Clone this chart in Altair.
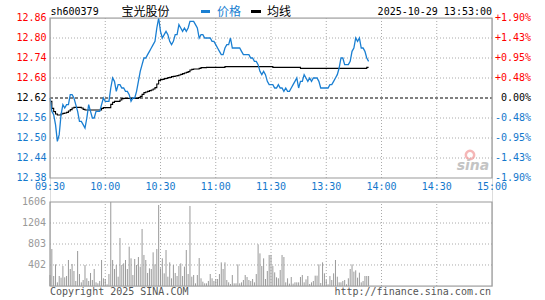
import altair as alt
import pandas as pd

# ---------------- data ----------------
minutes = list(range(174))  # minutes since 09:30 (13:00 continues at 120)

price = [
    12.62, 12.58, 12.57, 12.54, 12.49, 12.51, 12.57, 12.60, 12.59, 12.60,
    12.60, 12.63, 12.63, 12.62, 12.60, 12.58, 12.55, 12.55, 12.54, 12.53,
    12.56, 12.60, 12.58, 12.56, 12.56, 12.58, 12.58, 12.58, 12.60, 12.62,
    12.61, 12.61, 12.61, 12.65, 12.68, 12.67, 12.64, 12.66, 12.66, 12.65,
    12.65, 12.64, 12.64, 12.63, 12.61, 12.62, 12.62, 12.64, 12.67, 12.70,
    12.72, 12.74, 12.74, 12.75, 12.76, 12.77, 12.78, 12.79, 12.83, 12.86,
    12.82, 12.80, 12.81, 12.82, 12.81, 12.79, 12.78, 12.79, 12.81, 12.81,
    12.84, 12.83, 12.82, 12.83, 12.82, 12.83, 12.85, 12.85, 12.85, 12.84,
    12.83, 12.80, 12.81, 12.81, 12.80, 12.80, 12.80, 12.80, 12.79, 12.79,
    12.78, 12.77, 12.76, 12.75, 12.75, 12.77, 12.78, 12.78, 12.80, 12.77,
    12.77, 12.77, 12.77, 12.77, 12.76, 12.75, 12.75, 12.75, 12.75, 12.74,
    12.74, 12.73, 12.73, 12.72, 12.70, 12.69, 12.70, 12.69, 12.67, 12.66,
    12.66, 12.66, 12.65, 12.65, 12.66, 12.65, 12.65, 12.64, 12.65, 12.64,
    12.64, 12.65, 12.66, 12.67, 12.68, 12.65, 12.67, 12.67, 12.69, 12.68,
    12.67, 12.68, 12.67, 12.68, 12.68, 12.68, 12.67, 12.65, 12.65, 12.65,
    12.65, 12.65, 12.66, 12.66, 12.67, 12.68, 12.69, 12.71, 12.74, 12.74,
    12.72, 12.72, 12.72, 12.73, 12.76, 12.77, 12.80, 12.79, 12.80, 12.77,
    12.77, 12.76, 12.74, 12.73,
]

avg = [
    12.610, 12.589, 12.579, 12.572, 12.569, 12.569, 12.572, 12.574, 12.575, 12.577,
    12.581, 12.585, 12.590, 12.592, 12.592, 12.592, 12.592, 12.590, 12.586, 12.584,
    12.584, 12.584, 12.584, 12.584, 12.584, 12.584, 12.584, 12.584, 12.589, 12.591,
    12.591, 12.591, 12.591, 12.601, 12.607, 12.610, 12.610, 12.610, 12.614, 12.618,
    12.619, 12.619, 12.619, 12.619, 12.619, 12.619, 12.619, 12.619, 12.621, 12.625,
    12.631, 12.636, 12.638, 12.640, 12.642, 12.644, 12.647, 12.651, 12.662, 12.673,
    12.675, 12.676, 12.678, 12.679, 12.681, 12.682, 12.684, 12.685, 12.686, 12.687,
    12.689, 12.691, 12.693, 12.695, 12.697, 12.699, 12.704, 12.706, 12.707, 12.707,
    12.707, 12.709, 12.711, 12.711, 12.711, 12.712, 12.712, 12.712, 12.712, 12.712,
    12.712, 12.712, 12.712, 12.712, 12.712, 12.714, 12.714, 12.714, 12.714, 12.714,
    12.714, 12.714, 12.714, 12.714, 12.714, 12.714, 12.714, 12.714, 12.714, 12.714,
    12.714, 12.714, 12.714, 12.714, 12.714, 12.714, 12.714, 12.714, 12.714, 12.714,
    12.714, 12.712, 12.712, 12.712, 12.712, 12.712, 12.712, 12.712, 12.712, 12.712,
    12.712, 12.712, 12.712, 12.712, 12.712, 12.712, 12.709, 12.709, 12.709, 12.709,
    12.709, 12.709, 12.709, 12.709, 12.709, 12.709, 12.709, 12.709, 12.709, 12.709,
    12.709, 12.709, 12.709, 12.709, 12.709, 12.709, 12.709, 12.709, 12.709, 12.709,
    12.709, 12.709, 12.709, 12.709, 12.709, 12.709, 12.709, 12.709, 12.709, 12.709,
    12.709, 12.709, 12.712, 12.712,
]

volume = [
    210, 707, 191, 414, 70, 191, 159, 382, 166, 191,
    497, 325, 421, 287, 96, 669, 229, 70, 115, 401,
    147, 96, 249, 115, 325, 70, 51, 96, 497, 147,
    134, 32, 229, 1606, 497, 325, 401, 178, 918, 401,
    433, 497, 325, 752, 529, 210, 516, 401, 554, 370,
    1090, 593, 497, 249, 338, 325, 644, 414, 707, 1549,
    338, 529, 242, 688, 178, 452, 147, 401, 249, 191,
    382, 433, 191, 370, 688, 229, 1530, 178, 210, 51,
    210, 535, 147, 83, 51, 51, 96, 229, 147, 96,
    134, 134, 229, 452, 325, 452, 115, 70, 38, 210,
    51, 51, 414, 51, 70, 115, 210, 172, 115, 96,
    134, 70, 229, 797, 624, 382, 529, 134, 287, 593,
    593, 382, 261, 166, 147, 306, 593, 554, 70, 147,
    45, 172, 45, 70, 70, 70, 172, 210, 70, 127,
    191, 38, 70, 96, 198, 198, 414, 57, 452, 242,
    115, 32, 191, 115, 242, 497, 178, 70, 70, 96,
    115, 32, 147, 325, 414, 274, 300, 159, 255, 70,
    96, 191, 191, 191,
]

price_ticks = [12.86, 12.80, 12.74, 12.68, 12.62, 12.56, 12.50, 12.44, 12.38]
price_labels = ["12.86", "12.80", "12.74", "12.68", "12.62", "12.56", "12.50", "12.44", "12.38"]
pct_labels = ["+1.90%", "+1.43%", "+0.95%", "+0.48%", "0.00%", "-0.48%", "-0.95%", "-1.43%", "-1.90%"]
time_ticks = [0, 30, 60, 90, 120, 150, 180, 210, 240]
time_labels = ["09:30", "10:00", "10:30", "11:00", "11:30", "13:30", "14:00", "14:30", "15:00"]
vol_ticks = [1606, 1204, 803, 402]
vol_labels = ["1606", "1204", "803", "402"]
prev_close = 12.62

# ---------------- style ----------------
BLUE = "#1a7fd2"
BLUE_TXT = "#1478cc"
RED = "#ff0000"
GRID = "#aaaaaa"
FRAME = "#999999"
FONT = "DejaVu Sans Mono"

W, HP = 442, 268
X = alt.Scale(domain=[0, 240], range=[0, W], nice=False, zero=False)
PY = alt.Scale(domain=[12.38, 12.86], range=[160, 0], nice=False, zero=False)
VY = alt.Scale(domain=[0, 1606], range=[268, 184], nice=False, zero=False)

def tick_color(p):
    if p > prev_close:
        return RED
    if p < prev_close:
        return BLUE_TXT
    return "#000000"

series = pd.DataFrame({"t": minutes, "price": price, "avg": avg, "vol": volume,
                       "zero": [0] * len(minutes)})
ticks = pd.DataFrame({"p": price_ticks, "lab": price_labels, "pct": pct_labels,
                      "col": [tick_color(p) for p in price_ticks],
                      "t0": 0, "t1": 240})
grid_p = ticks[(ticks.p != prev_close) & (ticks.p != 12.86) & (ticks.p != 12.38)]
zero_line = ticks[ticks.p == prev_close]
tt = pd.DataFrame({"t": time_ticks, "lab": time_labels,
                   "p0": 12.38, "p1": 12.86, "v0": 0, "v1": 1606})
vgrid = tt[(tt.t > 0) & (tt.t < 240)]
vt = pd.DataFrame({"v": vol_ticks, "lab": vol_labels, "t0": 0, "t1": 240})
frame = pd.DataFrame({"t0": [0], "t1": [240], "p0": [12.38], "p1": [12.86], "v0": [0], "v1": [1606]})

xq = lambda f: alt.X(f, type="quantitative", scale=X, axis=None)
pq = lambda f: alt.Y(f, type="quantitative", scale=PY, axis=None)
vq = lambda f: alt.Y(f, type="quantitative", scale=VY, axis=None)

layers = []

# grids top
layers.append(alt.Chart(grid_p).mark_rule(color=GRID, strokeDash=[1, 2], strokeWidth=1)
              .encode(x=xq("t0"), x2="t1", y=pq("p")))
layers.append(alt.Chart(vgrid).mark_rule(color=GRID, strokeDash=[1, 2], strokeWidth=1)
              .encode(x=xq("t"), y=pq("p0"), y2="p1"))
# grids bottom
layers.append(alt.Chart(vt[vt.v < 1606]).mark_rule(color=GRID, strokeDash=[1, 2], strokeWidth=1)
              .encode(x=xq("t0"), x2="t1", y=vq("v")))
layers.append(alt.Chart(vgrid).mark_rule(color=GRID, strokeDash=[1, 2], strokeWidth=1)
              .encode(x=xq("t"), y=vq("v0"), y2="v1"))
# zero (prev close) line
layers.append(alt.Chart(zero_line).mark_rule(color="#000000", strokeDash=[3, 2], strokeWidth=1)
              .encode(x=xq("t0"), x2="t1", y=pq("p")))

# volume bars
layers.append(alt.Chart(series).mark_rule(color="#999999", strokeWidth=1)
              .encode(x=xq("t"), y=vq("vol"), y2="zero"))

# average and price lines
layers.append(alt.Chart(series).mark_line(color="#000000", strokeWidth=1.1, interpolate="step-after")
              .encode(x=xq("t"), y=pq("avg")))
layers.append(alt.Chart(series).mark_line(color=BLUE, strokeWidth=1.3)
              .encode(x=xq("t"), y=pq("price")))

# frames
layers.append(alt.Chart(frame).mark_rect(fillOpacity=0, stroke=FRAME, strokeWidth=1.2)
              .encode(x=xq("t0"), x2="t1", y=pq("p0"), y2="p1"))
layers.append(alt.Chart(frame).mark_rect(fillOpacity=0, stroke=FRAME, strokeWidth=1.2)
              .encode(x=xq("t0"), x2="t1", y=vq("v0"), y2="v1"))

# left price labels, right percent labels
layers.append(alt.Chart(ticks).mark_text(font=FONT, fontSize=10, align="right", baseline="middle")
              .encode(x=alt.value(-3.5), y=pq("p"), text="lab:N", color=alt.Color("col:N", scale=None)))
layers.append(alt.Chart(ticks).mark_text(font=FONT, fontSize=10, align="right", baseline="middle")
              .encode(x=alt.value(481), y=pq("p"), text="pct:N", color=alt.Color("col:N", scale=None)))
# time labels
layers.append(alt.Chart(tt).mark_text(font=FONT, fontSize=10, align="center", baseline="middle", color=BLUE_TXT)
              .encode(x=xq("t"), y=alt.value(169), text="lab:N"))
# volume labels
layers.append(alt.Chart(vt).mark_text(font=FONT, fontSize=10, align="right", baseline="middle", color="#999999")
              .encode(x=alt.value(-4), y=vq("v"), text="lab:N"))

# header texts
hdr = pd.DataFrame({"k": [0]})
def txt(s, x, align="left", color="#000000", font=FONT, size=10):
    return (alt.Chart(hdr).mark_text(text=s, font=font, fontSize=size, align=align,
                                     baseline="middle", color=color)
            .encode(x=alt.value(x), y=alt.value(-6.5)))

layers.append(txt("sh600379", 0.5))
layers.append(txt("宝光股份", 71.5, font="Noto Sans CJK SC", size=12))
layers.append(alt.Chart(hdr).mark_rule(color=BLUE, strokeWidth=3)
              .encode(x=alt.value(151), x2=alt.value(160), y=alt.value(-6.5)))
layers.append(txt("价格", 167, color=BLUE, font="Noto Sans CJK SC", size=12))
layers.append(alt.Chart(hdr).mark_rule(color="#000000", strokeWidth=3)
              .encode(x=alt.value(201), x2=alt.value(211), y=alt.value(-6.5)))
layers.append(txt("均线", 217, font="Noto Sans CJK SC", size=12))
layers.append(txt("2025-10-29 13:53:00", 442, align="right"))

# footer texts
layers.append(alt.Chart(hdr).mark_text(text="Copyright 2025 SINA.COM", font=FONT, fontSize=10,
                                       align="left", baseline="middle", color="#555555")
              .encode(x=alt.value(0), y=alt.value(274)))
layers.append(alt.Chart(hdr).mark_text(text="http://finance.sina.com.cn", font=FONT, fontSize=10,
                                       align="right", baseline="middle", color="#555555")
              .encode(x=alt.value(441), y=alt.value(274)))

# sina watermark
layers.append(alt.Chart(hdr).mark_point(shape="circle", size=70, filled=False, color="#f29a9a",
                                        strokeWidth=2.5, opacity=0.7)
              .encode(x=alt.value(420), y=alt.value(137)))
layers.append(alt.Chart(hdr).mark_text(text="sina", font="DejaVu Sans", fontSize=14, fontStyle="italic",
                                       fontWeight="bold", align="center", baseline="middle", color="#c4c4c4")
              .encode(x=alt.value(423), y=alt.value(148)))

chart = (alt.layer(*layers)
         .resolve_scale(y="independent")
         .properties(width=W, height=HP,
                     autosize=alt.AutoSizeParams(type="none"),
                     padding={"left": 50, "top": 18, "right": 53, "bottom": 14})
         .configure_view(stroke=None)
         .configure(background="#ffffff"))

chart.save("out.html", embed_options={"renderer": "svg", "actions": False})
